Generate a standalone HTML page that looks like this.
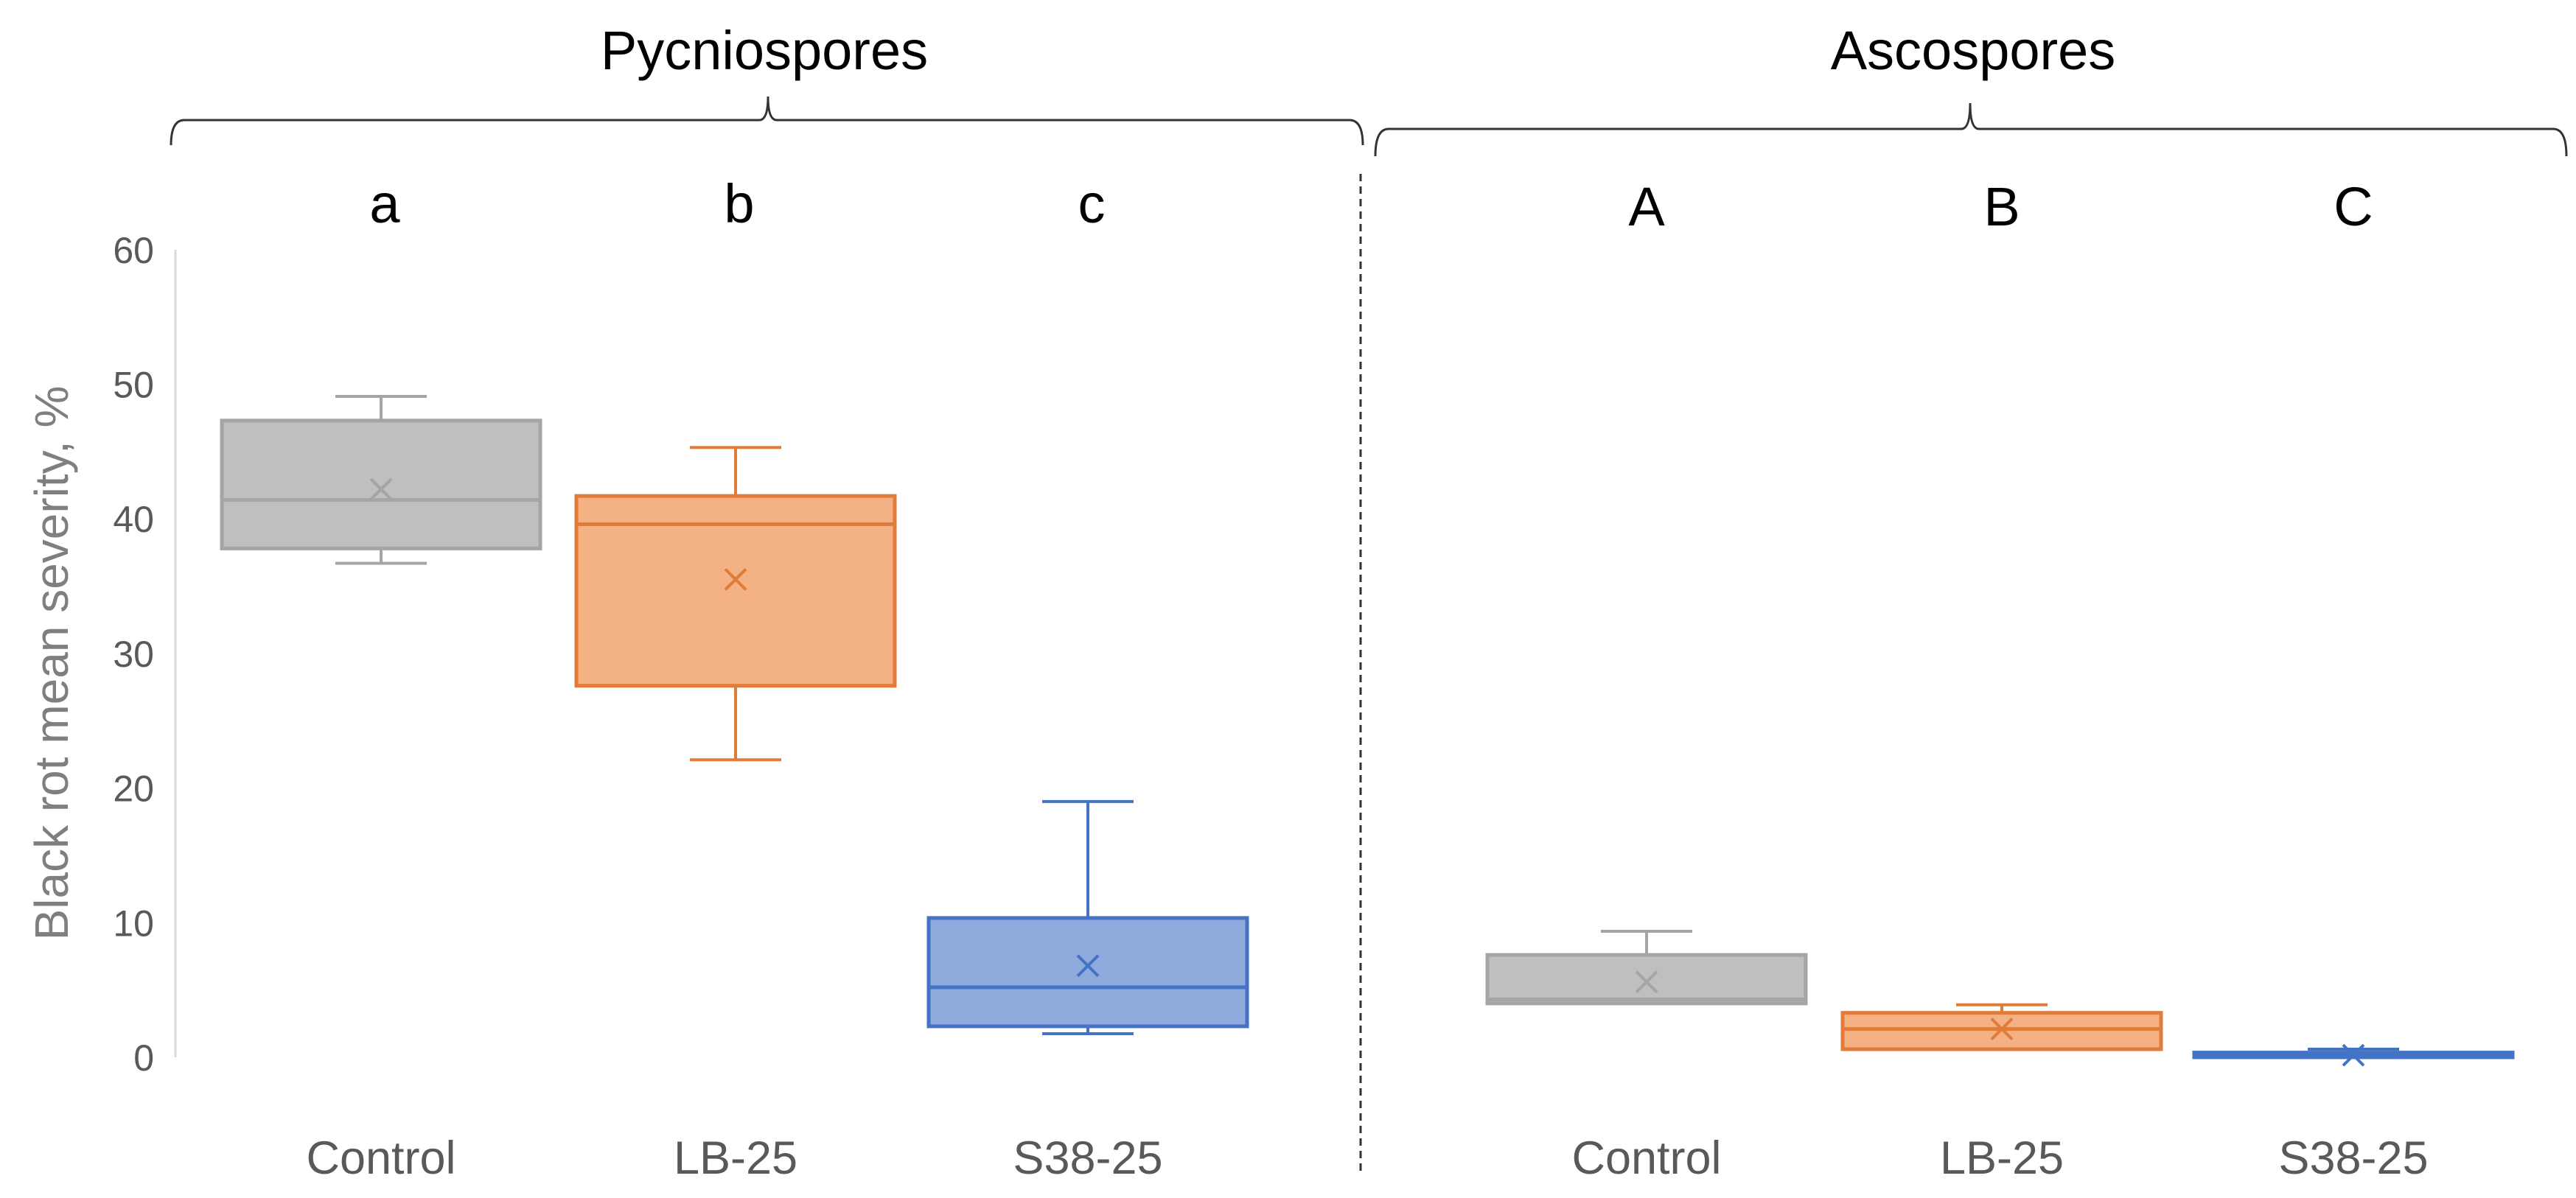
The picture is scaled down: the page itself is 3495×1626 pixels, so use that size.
<!DOCTYPE html>
<html><head><meta charset="utf-8"><style>
html,body{margin:0;padding:0;background:#fff;}
svg{display:block;font-family:"Liberation Sans",sans-serif;}
</style></head><body>
<svg id="chart" width="3495" height="1626" viewBox="0 0 3495 1626" xmlns="http://www.w3.org/2000/svg">
<g id="static">
<text x="1037" y="94" font-size="74" text-anchor="middle" fill="#000">Pycniospores</text>
<text x="2677" y="94" font-size="74" text-anchor="middle" fill="#000">Ascospores</text>
<path d="M232 197 Q232 163 250 163 L1030 163 Q1042 163 1042 131 Q1042 163 1054 163 L1831 163 Q1849 163 1849 197" fill="none" stroke="#333" stroke-width="3"/>
<path d="M1866 212 Q1866 175 1884 175 L2661 175 Q2673 175 2673 140 Q2673 175 2685 175 L3464 175 Q3482 175 3482 212" fill="none" stroke="#333" stroke-width="3"/>
<line x1="1846" y1="236" x2="1846" y2="1590" stroke="#333" stroke-width="3" stroke-dasharray="10,7"/>
<line x1="238" y1="339" x2="238" y2="1435" stroke="#d9d9d9" stroke-width="3"/>
<text transform="translate(92,900) rotate(-90)" font-size="64" text-anchor="middle" fill="#7f7f7f">Black rot mean severity, %</text>
</g>
<g id="marks"></g>
</svg>
<script>
const yTicks = [0, 10, 20, 30, 40, 50, 60];
const categories = ["Control", "LB-25", "S38-25", "Control", "LB-25", "S38-25"];
const letters = ["a", "b", "c", "A", "B", "C"];
const whiskerHigh = [49.1, 45.3, 19.0, 9.36, 3.9, 0.6];
const boxHigh = [47.3, 41.7, 10.35, 7.6, 3.3, 0.35];
const medians = [41.4, 39.6, 5.2, 4.3, 2.1, 0.1];
const boxLow = [37.8, 27.6, 2.3, 4.0, 0.6, 0.0];
const whiskerLow = [36.7, 22.1, 1.75, 4.0, 0.6, 0.0];
const means = [42.2, 35.5, 6.8, 5.6, 2.1, 0.15];

const centers = [517, 998, 1476, 2234, 2716, 3193];
const fills = ["#bfbfbf", "#f4b183", "#8faadc"];
const strokes = ["#a5a5a5", "#e07b39", "#4472c4"];
const NS = "http://www.w3.org/2000/svg";
const g = document.getElementById("marks");
function y(v){ return 1435 - v * 18.27; }
function mk(tag, attrs){ const e = document.createElementNS(NS, tag); for (const k in attrs) e.setAttribute(k, attrs[k]); g.appendChild(e); return e; }

yTicks.forEach(t => {
  const e = mk("text", {x: 209, y: y(t) + 18, "font-size": 50, "text-anchor": "end", fill: "#595959"});
  
  
  e.textContent = t;
});

categories.forEach((c, i) => {
  const cx = centers[i], hw = 216, cw = 62, col = i % 3;
  const st = strokes[col];
  const w1 = mk("line", {x1: cx, x2: cx, y1: y(whiskerHigh[i]), y2: y(boxHigh[i]), stroke: st, "stroke-width": 4});
  
  
  const w2 = mk("line", {x1: cx, x2: cx, y1: y(boxLow[i]), y2: y(whiskerLow[i]), stroke: st, "stroke-width": 4});
  
  
  const c1 = mk("line", {x1: cx - cw, x2: cx + cw, y1: y(whiskerHigh[i]), y2: y(whiskerHigh[i]), stroke: st, "stroke-width": 4});
  
  
  const c2 = mk("line", {x1: cx - cw, x2: cx + cw, y1: y(whiskerLow[i]), y2: y(whiskerLow[i]), stroke: st, "stroke-width": 4});
  
  
  const b = mk("rect", {x: cx - hw, y: y(boxHigh[i]), width: hw * 2, height: Math.max(y(boxLow[i]) - y(boxHigh[i]), 1), fill: fills[col], stroke: st, "stroke-width": 5});
  
  
  const m = mk("line", {x1: cx - hw, x2: cx + hw, y1: y(medians[i]), y2: y(medians[i]), stroke: st, "stroke-width": 5});
  
  
  const my = y(means[i]), s = 14;
  const x = mk("path", {d: `M${cx-s} ${my-s} L${cx+s} ${my+s} M${cx+s} ${my-s} L${cx-s} ${my+s}`, stroke: st, "stroke-width": 4, fill: "none"});
  
  
  const lab = mk("text", {x: cx, y: 1593, "font-size": 63, "text-anchor": "middle", fill: "#595959"});
  
  
  lab.textContent = c;
  const let_ = mk("text", {x: cx + (i < 3 ? 5 : 0), y: i < 3 ? 302 : 306, "font-size": 74, "text-anchor": "middle", fill: "#000"});
  
  
  let_.textContent = letters[i];
});
</script>
</body></html>
